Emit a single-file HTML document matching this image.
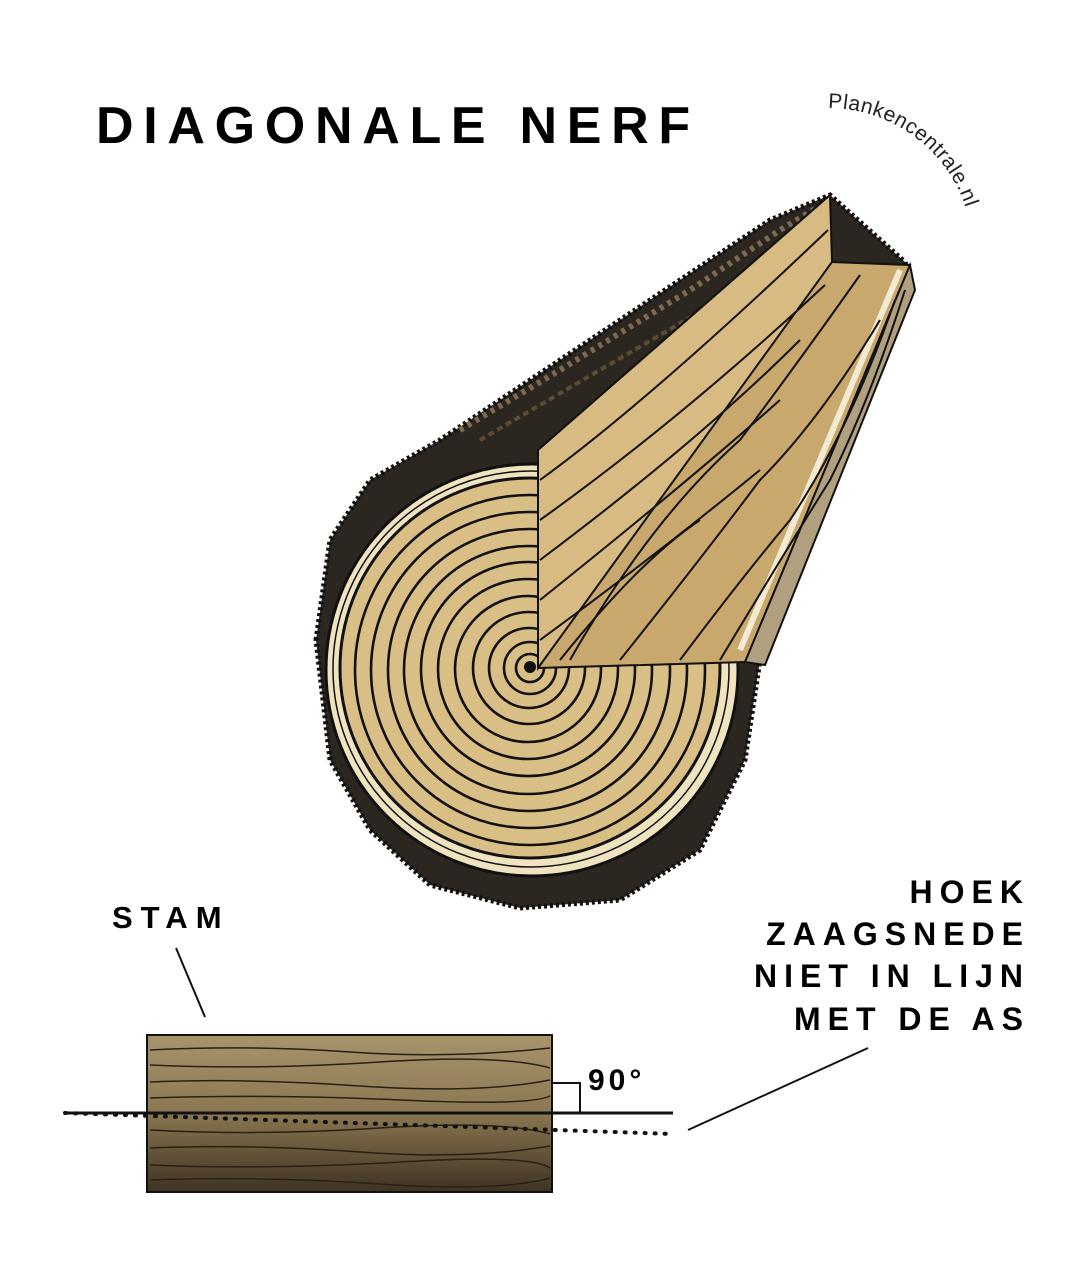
<!DOCTYPE html>
<html><head><meta charset="utf-8"><style>
html,body{margin:0;padding:0;background:#fff;width:1080px;height:1262px;overflow:hidden}
svg{display:block}
text{font-family:"Liberation Sans",sans-serif}
</style></head><body>
<svg width="1080" height="1262" viewBox="0 0 1080 1262" xmlns="http://www.w3.org/2000/svg">
<defs>
<path id="arc" d="M828,108 A145,145 0 0 1 973,253"/>
<linearGradient id="stam" x1="0" y1="0" x2="0" y2="1">
<stop offset="0" stop-color="#a8946c"/><stop offset="0.5" stop-color="#8a7650"/><stop offset="1" stop-color="#3e3222"/>
</linearGradient>
</defs>
<text x="96" y="143" font-size="52" font-weight="bold" letter-spacing="9.7">DIAGONALE NERF</text>
<text font-size="21" font-family="DejaVu Sans" fill="#222" letter-spacing="0.5"><textPath href="#arc">Plankencentrale.nl</textPath></text>

<!-- bark body -->
<path d="M316,640 L330,540 L370,480 L440,440 L560,360 L680,280 L770,220 L830,195 L905,262 L912,285 L860,420 L800,560 L760,660 L745,760 L700,850 L620,900 L520,908 L430,885 L370,830 L330,760 Z" fill="#2b261f" stroke="#111" stroke-width="5" stroke-dasharray="3 3"/>
<path d="M460,430 L560,370 L690,290 L780,230 L830,200" stroke="#7d6a50" stroke-width="6" fill="none" stroke-dasharray="4 5"/>
<path d="M480,440 L600,370 L720,300 L820,240" stroke="#5b4c38" stroke-width="4" fill="none" stroke-dasharray="6 4"/>
<!-- cross section -->
<circle cx="532" cy="670" r="206" fill="#efe3c0" stroke="#111" stroke-width="3"/>
<circle cx="530" cy="668" r="190" fill="#d9be86" stroke="#111" stroke-width="3"/>
<g fill="none" stroke="#111" stroke-width="2.6">
<circle cx="531" cy="669" r="198" stroke-width="1.5"/>
<circle cx="530" cy="670" r="175"/>
<circle cx="529" cy="670" r="158"/>
<circle cx="529" cy="670" r="141"/>
<circle cx="528" cy="670" r="124"/>
<circle cx="528" cy="669" r="107"/>
<circle cx="528" cy="669" r="90"/>
<circle cx="528" cy="669" r="73"/>
<circle cx="529" cy="668" r="56"/>
<circle cx="529" cy="668" r="40"/>
<circle cx="530" cy="668" r="26"/>
<circle cx="530" cy="668" r="14"/>
</g>
<circle cx="530" cy="667" r="6" fill="#111"/>
<!-- cut faces -->
<path d="M538,450 L830,195 L832,262 L910,265 L745,662 L538,668 Z" fill="#c9a86e" stroke="#111" stroke-width="2"/>
<path d="M538,450 L830,195 L832,262 L538,668 Z" fill="#d8bb82" stroke="#111" stroke-width="2"/>
<path d="M910,265 L745,662 L765,665 L915,290 Z" fill="#b0a080" stroke="#111" stroke-width="2"/>
<path d="M900,270 L740,650" stroke="#f2ead3" stroke-width="6"/>
<g fill="none" stroke="#111" stroke-width="2">
<path d="M540,480 Q650,400 828,230"/><path d="M540,520 Q680,420 825,285"/>
<path d="M540,560 Q700,440 800,340"/><path d="M540,600 Q690,480 780,400"/>
<path d="M540,640 Q650,560 760,470"/><path d="M560,660 Q640,560 700,520"/>
<path d="M620,660 Q700,560 760,480 Q820,420 880,320"/>
<path d="M680,660 Q740,580 790,520 Q850,430 895,300"/>
<path d="M570,660 Q650,520 740,440 Q800,360 860,275"/>
<path d="M720,660 Q780,560 830,480 Q870,400 905,290"/>
</g>

<!-- bottom -->
<text x="112" y="928" font-size="31" font-weight="bold" letter-spacing="8">STAM</text>
<line x1="176" y1="948" x2="205" y2="1017" stroke="#111" stroke-width="2"/>
<g font-size="32" font-weight="bold" letter-spacing="7" text-anchor="end">
<text x="1030" y="903">HOEK</text>
<text x="1030" y="945">ZAAGSNEDE</text>
<text x="1030" y="987">NIET IN LIJN</text>
<text x="1030" y="1030">MET DE AS</text>
</g>
<line x1="868" y1="1048" x2="688" y2="1130" stroke="#111" stroke-width="2"/>
<rect x="147" y="1035" width="405" height="157" fill="url(#stam)" stroke="#111" stroke-width="2"/>
<g stroke="#2a2016" stroke-width="1.5" fill="none">
<path d="M150,1050 Q250,1045 350,1052 T550,1048"/><path d="M150,1065 Q260,1070 380,1062 T550,1068"/>
<path d="M150,1082 Q240,1078 360,1086 T550,1080"/><path d="M150,1098 Q270,1094 400,1100 T550,1096"/>
<path d="M150,1130 Q260,1136 380,1128 T550,1134"/><path d="M150,1148 Q250,1144 360,1152 T550,1146"/>
<path d="M150,1165 Q270,1170 400,1162 T550,1168"/><path d="M150,1180 Q260,1176 380,1184 T550,1178"/>
</g>
<line x1="65" y1="1113" x2="673" y2="1113" stroke="#111" stroke-width="3"/>
<line x1="65" y1="1113" x2="672" y2="1134" stroke="#111" stroke-width="4" stroke-dasharray="1 9" stroke-linecap="round"/>
<path d="M552,1083 L580,1083 L580,1113" fill="none" stroke="#111" stroke-width="2"/>
<text x="588" y="1090" font-size="30" font-weight="bold" letter-spacing="4">90°</text>
</svg>
</body></html>
